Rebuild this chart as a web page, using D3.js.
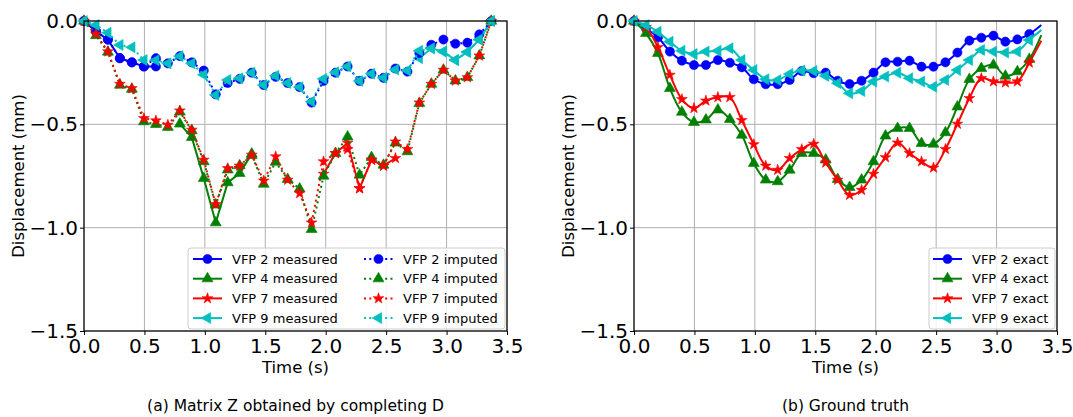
<!DOCTYPE html>
<html>
<head>
<meta charset="utf-8">
<script src="https://cdn.jsdelivr.net/npm/d3@7"></script>
<style>
  body { margin: 0; background: #fff; }
  text { font-family: "DejaVu Sans", sans-serif; fill: #000; }
</style>
</head>
<body>
<svg id="chart" width="1073" height="417"></svg>
<script>
// sample times (s)
var times = [0.000, 0.099, 0.198, 0.297, 0.396, 0.496, 0.595, 0.694, 0.793, 0.892,
             0.991, 1.090, 1.189, 1.288, 1.388, 1.487, 1.586, 1.685, 1.784, 1.883,
             1.982, 2.081, 2.181, 2.280, 2.379, 2.478, 2.577, 2.676, 2.775, 2.874,
             2.974, 3.073, 3.172, 3.271, 3.370];

var vfpNames = ['VFP 2', 'VFP 4', 'VFP 7', 'VFP 9'];
var vfpColors = ['#0000ff', '#008000', '#ff0000', '#00bfbf'];

// (a) imputed displacement, matrix Z
var imp2 = [0, -0.05, -0.09, -0.18, -0.20, -0.22, -0.18, -0.205, -0.17, -0.20,
            -0.24, -0.355, -0.30, -0.28, -0.25, -0.31, -0.27, -0.30, -0.32, -0.395,
            -0.29, -0.25, -0.22, -0.29, -0.255, -0.275, -0.23, -0.245, -0.155, -0.115,
            -0.09, -0.11, -0.105, -0.065, 0];
var imp4 = [0, -0.07, -0.15, -0.31, -0.33, -0.487, -0.50, -0.514, -0.44, -0.53,
            -0.68, -0.89, -0.72, -0.70, -0.65, -0.789, -0.683, -0.766, -0.812, -1.008,
            -0.75, -0.64, -0.56, -0.745, -0.66, -0.697, -0.59, -0.632, -0.398, -0.305,
            -0.237, -0.289, -0.273, -0.168, 0];
var imp7 = [0, -0.063, -0.148, -0.305, -0.326, -0.471, -0.482, -0.503, -0.434, -0.527,
            -0.672, -0.887, -0.713, -0.701, -0.648, -0.773, -0.656, -0.769, -0.834, -0.976,
            -0.68, -0.64, -0.621, -0.81, -0.672, -0.701, -0.584, -0.621, -0.395, -0.305,
            -0.237, -0.289, -0.273, -0.168, 0];
var imp9 = [0, -0.019, -0.057, -0.116, -0.127, -0.189, -0.19, -0.205, -0.17, -0.205,
            -0.26, -0.358, -0.285, -0.277, -0.25, -0.31, -0.265, -0.30, -0.32, -0.39,
            -0.28, -0.248, -0.22, -0.29, -0.255, -0.275, -0.235, -0.24, -0.144, -0.132,
            -0.148, -0.189, -0.15, -0.09, 0];

// (a) measured displacement, null = missing
var meas2 = [0, -0.05, -0.09, -0.18, -0.20, -0.22, -0.22, null, null, null,
             null, null, null, null, null, null, null, null, null, null,
             null, null, null, null, null, null, null, null, null, null,
             null, null, null, null, null];
var meas4 = [null, null, null, null, null, null, null, null, -0.498, -0.563,
             -0.761, -0.976, -0.782, -0.737, -0.643, null, null, null, null, null,
             null, null, null, null, null, null, null, null, null, null,
             null, null, null, null, null];
var meas7 = [null, null, null, null, null, null, null, null, null, null,
             null, null, null, null, null, null, null, null, null, null,
             -0.74, -0.64, -0.59, -0.81, -0.672, -0.70, -0.664, null, null, null,
             null, null, null, null, null];
var meas9 = [null, null, null, null, null, null, null, null, null, null,
             null, null, null, null, null, null, null, null, null, null,
             null, null, null, null, null, null, null, null, -0.18, -0.132,
             -0.148, -0.189, -0.15, -0.09, 0];

// (b) ground truth
var exact2 = [0, -0.035, -0.079, -0.148, -0.192, -0.213, -0.213, -0.189, -0.202, -0.224,
              -0.282, -0.306, -0.306, -0.285, -0.242, -0.253, -0.25, -0.289, -0.305, -0.289,
              -0.25, -0.20, -0.197, -0.192, -0.221, -0.221, -0.20, -0.153, -0.095, -0.081,
              -0.071, -0.10, -0.089, -0.063, -0.019];
var exact4 = [0, -0.06, -0.156, -0.326, -0.441, -0.49, -0.478, -0.43, -0.476, -0.552,
              -0.689, -0.769, -0.777, -0.721, -0.64, -0.64, -0.672, -0.766, -0.805, -0.769,
              -0.68, -0.556, -0.519, -0.519, -0.592, -0.595, -0.54, -0.415, -0.282, -0.229,
              -0.213, -0.266, -0.245, -0.185, -0.068];
var exact7 = [0, -0.03, -0.127, -0.261, -0.379, -0.422, -0.386, -0.369, -0.369, -0.48,
              -0.597, -0.701, -0.721, -0.664, -0.621, -0.595, -0.686, -0.769, -0.842, -0.818,
              -0.74, -0.66, -0.589, -0.64, -0.68, -0.71, -0.62, -0.498, -0.374, -0.277,
              -0.293, -0.298, -0.293, -0.202, -0.095];
var exact9 = [0, -0.02, -0.052, -0.10, -0.144, -0.16, -0.148, -0.144, -0.132, -0.189,
              -0.237, -0.282, -0.286, -0.256, -0.24, -0.242, -0.266, -0.301, -0.35, -0.339,
              -0.293, -0.269, -0.25, -0.277, -0.293, -0.318, -0.285, -0.237, -0.189, -0.14,
              -0.148, -0.153, -0.148, -0.092, -0.044];

var xTicks = [0, 0.5, 1.0, 1.5, 2.0, 2.5, 3.0, 3.5];
var yTicks = [0, -0.5, -1.0, -1.5];

var measured = [meas2, meas4, meas7, meas9];
var imputed = [imp2, imp4, imp7, imp9];
var exact = [exact2, exact4, exact7, exact9];

// marker per VFP: circle, up triangle, star, left triangle
var shapes = [d3.symbolCircle, d3.symbolTriangle, d3.symbolStar, d3.symbolTriangle];
var shapeSize = [66, 52, 36, 52];
var shapeRot = [0, 0, 0, -90];

var svg = d3.select('#chart');
var fmt = d3.format('.1f');

function markerPath(i) {
  return d3.symbol().type(shapes[i]).size(shapeSize[i])();
}

function drawMarkers(g, pts, i) {
  g.selectAll(null)
    .data(pts)
    .enter()
    .append('path')
    .attr('d', markerPath(i))
    .attr('transform', function(d) {
      return 'translate(' + d[0] + ',' + d[1] + ') rotate(' + shapeRot[i] + ')';
    })
    .attr('fill', vfpColors[i])
    .attr('stroke', vfpColors[i])
    .attr('stroke-width', 0.6);
}

function frame(left, right, top, bottom, caption) {
  var x = d3.scaleLinear().domain([0, 3.5]).range([left, right]);
  var y = d3.scaleLinear().domain([-1.5, 0]).range([bottom, top]);
  var g = svg.append('g');

  // grid
  g.selectAll('.gx').data(xTicks).enter().append('line')
    .attr('x1', function(d) { return x(d); }).attr('x2', function(d) { return x(d); })
    .attr('y1', top).attr('y2', bottom)
    .style('stroke', '#b0b0b0').style('stroke-width', 1);
  g.selectAll('.gy').data(yTicks).enter().append('line')
    .attr('y1', function(d) { return y(d); }).attr('y2', function(d) { return y(d); })
    .attr('x1', left).attr('x2', right)
    .style('stroke', '#b0b0b0').style('stroke-width', 1);

  var ax = g.append('g').attr('transform', 'translate(0,' + bottom + ')')
    .call(d3.axisBottom(x).tickValues(xTicks).tickFormat(fmt).tickSize(4).tickPadding(4));
  var ay = g.append('g').attr('transform', 'translate(' + left + ',0)')
    .call(d3.axisLeft(y).tickValues(yTicks).tickFormat(fmt).tickSize(4).tickPadding(2));
  [ax, ay].forEach(function(a) {
    a.select('.domain').remove();
    a.selectAll('text').style('font-size', '20px').style('font-family', '"DejaVu Sans", sans-serif');
    a.selectAll('line').style('stroke', '#000').style('stroke-width', 1);
  });

  g.append('text')
    .attr('x', (left + right) / 2).attr('y', 373)
    .attr('text-anchor', 'middle').style('font-size', '16.5px')
    .text('Time (s)');
  g.append('text')
    .attr('transform', 'translate(' + (left - 60) + ',' + ((top + bottom) / 2) + ') rotate(-90)')
    .attr('text-anchor', 'middle').style('font-size', '16.5px')
    .text('Displacement (mm)');
  g.append('text')
    .attr('x', (left + right) / 2).attr('y', 411)
    .attr('text-anchor', 'middle').style('font-size', '15.5px')
    .text(caption);

  var plot = g.append('g');
  // spines on top
  g.append('rect')
    .attr('x', left).attr('y', top)
    .attr('width', right - left).attr('height', bottom - top)
    .attr('fill', 'none').style('stroke', '#000').style('stroke-width', 1.2);

  return { x: x, y: y, g: plot };
}

function legendRow(g, x1, x2, yy, i, dotted, label) {
  g.append('line')
    .attr('x1', x1).attr('x2', x2).attr('y1', yy).attr('y2', yy)
    .style('stroke', vfpColors[i]).style('stroke-width', 2)
    .style('stroke-dasharray', dotted ? '2,3.3' : null);
  drawMarkers(g, [[(x1 + x2) / 2, yy]], i);
  g.append('text')
    .attr('x', x2 + 10).attr('y', yy + 4.6)
    .style('font-size', '13px')
    .text(label);
}

// ---- (a) Matrix Z
var a = frame(84, 507, 21, 331, '(a) Matrix Z obtained by completing D');

var lineA = d3.line()
  .defined(function(d) { return d[1] !== null; })
  .x(function(d) { return a.x(d[0]); })
  .y(function(d) { return a.y(d[1]); });

measured.forEach(function(vals, i) {
  var pts = times.map(function(t, k) { return [t, vals[k]]; });
  a.g.append('path')
    .attr('d', lineA(pts))
    .attr('fill', 'none')
    .style('stroke', vfpColors[i]).style('stroke-width', 2);
  drawMarkers(a.g, pts.filter(function(d) { return d[1] !== null; })
    .map(function(d) { return [a.x(d[0]), a.y(d[1])]; }), i);
});
imputed.forEach(function(vals, i) {
  var pts = times.map(function(t, k) { return [t, vals[k]]; });
  a.g.append('path')
    .attr('d', lineA(pts))
    .attr('fill', 'none')
    .style('stroke', vfpColors[i]).style('stroke-width', 2)
    .style('stroke-dasharray', '2,3.3');
  drawMarkers(a.g, pts.map(function(d) { return [a.x(d[0]), a.y(d[1])]; }), i);
});

var legA = svg.append('g');
legA.append('rect')
  .attr('x', 188).attr('y', 248).attr('width', 317).attr('height', 81).attr('rx', 3)
  .attr('fill', '#fff').attr('fill-opacity', 0.8)
  .style('stroke', '#cccccc').style('stroke-width', 1);
vfpNames.forEach(function(n, i) {
  var yy = 259 + i * 19.7;
  legendRow(legA, 193, 222, yy, i, false, n + ' measured');
  legendRow(legA, 364, 393, yy, i, true, n + ' imputed');
});

// ---- (b) Ground truth
var b = frame(634, 1057, 21, 331, '(b) Ground truth');

var lineB = d3.line()
  .curve(d3.curveCatmullRom)
  .x(function(d) { return b.x(d[0]); })
  .y(function(d) { return b.y(d[1]); });

exact.forEach(function(vals, i) {
  var pts = times.map(function(t, k) { return [t, vals[k]]; });
  b.g.append('path')
    .attr('d', lineB(pts))
    .attr('fill', 'none')
    .style('stroke', vfpColors[i]).style('stroke-width', 2);
  drawMarkers(b.g, pts.slice(0, pts.length - 1)
    .map(function(d) { return [b.x(d[0]), b.y(d[1])]; }), i);
});

var legB = svg.append('g');
legB.append('rect')
  .attr('x', 929).attr('y', 248).attr('width', 126).attr('height', 81).attr('rx', 3)
  .attr('fill', '#fff').attr('fill-opacity', 0.8)
  .style('stroke', '#cccccc').style('stroke-width', 1);
vfpNames.forEach(function(n, i) {
  legendRow(legB, 933, 962, 259 + i * 19.7, i, false, n + ' exact');
});
</script>
</body>
</html>
